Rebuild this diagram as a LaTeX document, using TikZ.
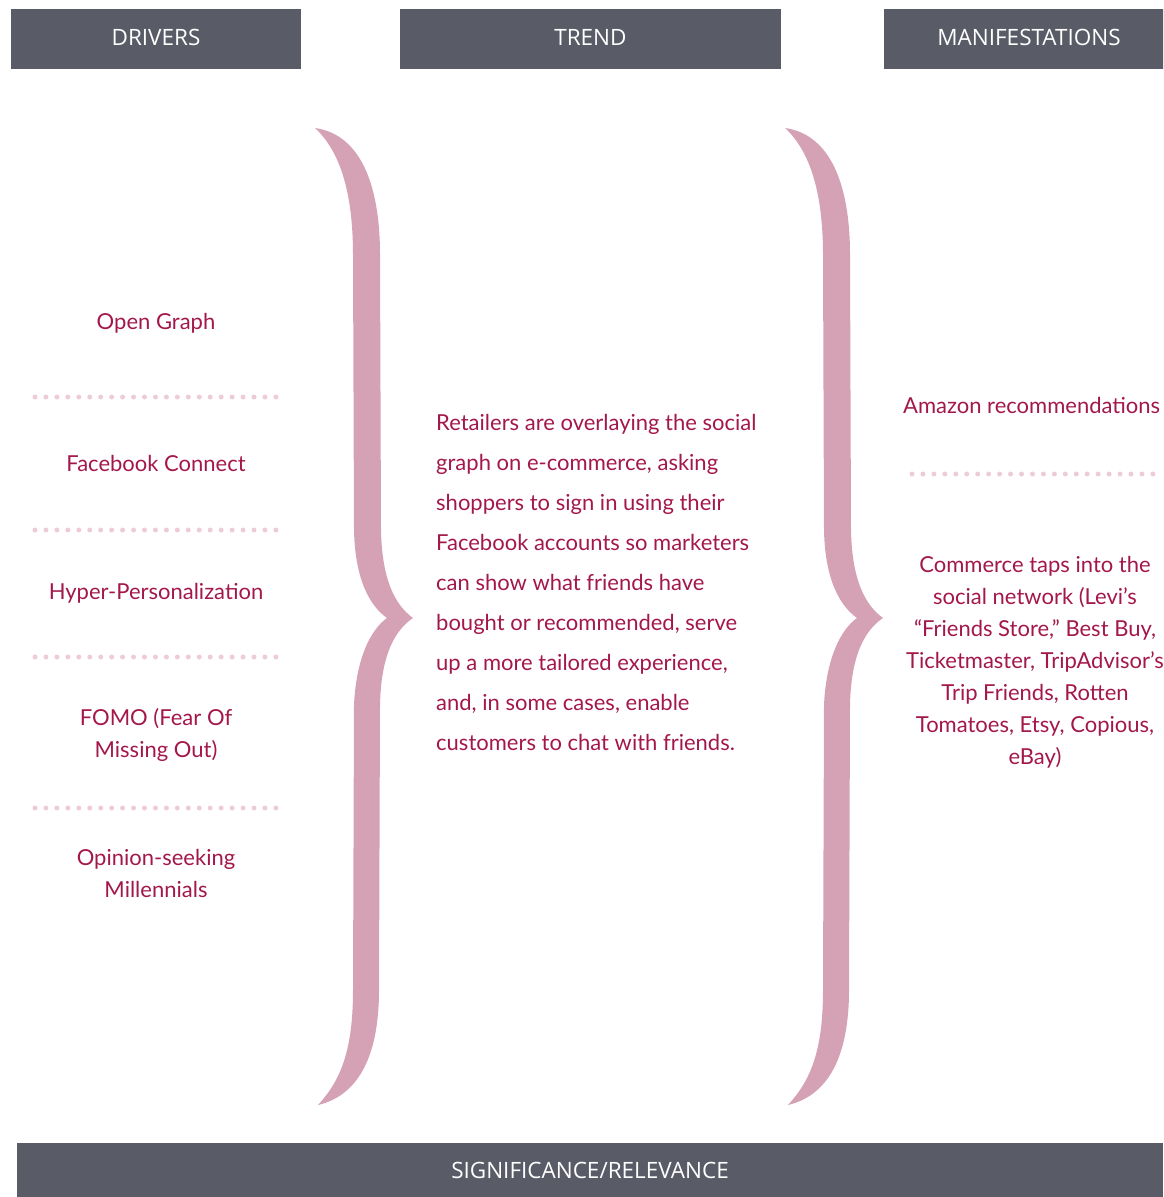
\documentclass[tikz,border=0pt]{standalone}
\usepackage{fontspec}
\setmainfont{Lato}
\newfontfamily\headfont{Open Sans}
\usetikzlibrary{positioning}
\definecolor{barGray}{HTML}{595B67}
\definecolor{wine}{HTML}{A3174B}
\definecolor{bracePink}{HTML}{D5A2B5}
\definecolor{dotPink}{HTML}{EDCCD8}

\begin{document}
\begin{tikzpicture}[x=1pt, y=-1pt,
                    line cap=round, line join=round,
                    header/.style={fill=barGray, text=white, inner sep=0pt,
                                   minimum height=60pt, text depth=4pt,
                                   font=\headfont\fontsize{22.5}{26}\selectfont},
                    item/.style={text=wine, align=center, inner sep=0pt,
                                 font=\fontsize{22}{32}\selectfont},
                    dotline/.style={dotPink, line width=5pt,
                                    dash pattern=on 0pt off 10.95pt},
                    brace/.style={fill=bracePink}]
  \clip (0,0) rectangle (1163,1197);
  \def\gap{470}

  % header bars
  \node[header, minimum width=290pt] (drivers) at (156,39) {DRIVERS};
  \node[header, minimum width=381pt] (trend) at (590.5,39) {TREND};
  \node[header, minimum width=290pt] (manif) at (1029,39) {MANIFESTATIONS};
  \node[header, minimum width=1146pt, minimum height=54pt, text depth=0pt]
    (signif) at (590,1170) {SIGNIFICANCE/RELEVANCE};

  % drivers
  \foreach \txt/\ypos [count=\i] in {Open Graph/323, Facebook Connect/463,
      Hyper-Personalization/593, {FOMO (Fear Of\\Missing Out)}/735,
      {Opinion-seeking\\Millennials}/873}{
    \node[item] (drv\i) at (156,\ypos) {\txt};
  }
  \foreach \ypos in {397,530,657,808}
    \draw[dotline] (35,\ypos) -- (277,\ypos);

  % braces
  \foreach \bx in {0,\gap}{
    \begin{scope}[xshift=\bx]
      \fill[brace] (315,128) .. controls (358,134) and (380,180) .. (380,255)
        -- (381,530) .. controls (382,580) and (395,605) .. (413,618)
        .. controls (395,630) and (381,655) .. (380,705)
        -- (379,990) .. controls (379,1060) and (356,1096) .. (318,1105)
        .. controls (341,1080) and (353,1050) .. (353,990)
        -- (354,705) .. controls (356,660) and (370,630) .. (387,618)
        .. controls (370,606) and (355,580) .. (354,530)
        -- (353,255) .. controls (353,195) and (341,152) .. (315,128) -- cycle;
    \end{scope}
  }

  % trend
  \node[item, align=left, anchor=north west, font=\fontsize{22}{40}\selectfont]
    (trendtxt) at (436,414) {Retailers are overlaying the social\\
      graph on e-commerce, asking\\
      shoppers to sign in using their\\
      Facebook accounts so marketers\\
      can show what friends have\\
      bought or recommended, serve\\
      up a more tailored experience,\\
      and, in some cases, enable\\
      customers to chat with friends.};

  % manifestations
  \node[item, anchor=west] (amazon) at (903,405) {Amazon recommendations};
  \draw[dotline] (912,474) -- (1155,474);
  \node[item] (commerce) at (1035,662) {Commerce taps into the\\
    social network (Levi’s\\
    “Friends Store,” Best Buy,\\
    Ticketmaster, TripAdvisor’s\\
    Trip Friends, Rotten\\
    Tomatoes, Etsy, Copious,\\
    eBay)};
\end{tikzpicture}
\end{document}
